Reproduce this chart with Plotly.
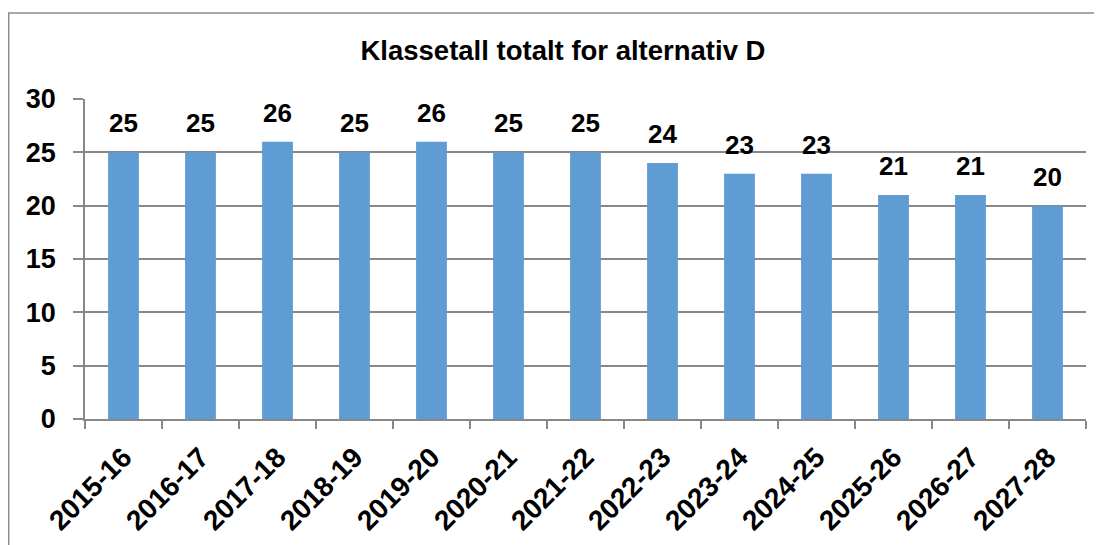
import plotly.graph_objects as go

categories = ["2015-16", "2016-17", "2017-18", "2018-19", "2019-20", "2020-21", "2021-22",
              "2022-23", "2023-24", "2024-25", "2025-26", "2026-27", "2027-28"]
values = [25, 25, 26, 25, 26, 25, 25, 24, 23, 23, 21, 21, 20]
y_ticks = [0, 5, 10, 15, 20, 25, 30]
title_text = "Klassetall totalt for alternativ D"

FONT = "Liberation Sans, Arial, sans-serif"
BAR = "#5E9CD3"
GRID = "#888888"

fig = go.Figure()
fig.add_trace(go.Bar(
    x=categories, y=values,
    marker=dict(color=BAR, line=dict(width=0)),
    width=0.4,
    hoverinfo="x+y",
))

for c, v in zip(categories, values):
    fig.add_annotation(
        x=c, y=v, text=str(v), showarrow=False,
        yanchor="bottom", yshift=12,
        font=dict(family=FONT, size=26, color="black", weight="bold"),
    )

# chart frame
fig.add_shape(type="rect", xref="paper", yref="paper",
              x0=-0.0762, x1=1.2, y0=-0.6, y1=1.26875,
              line=dict(color="#8C8C8C", width=1.5), fillcolor="rgba(0,0,0,0)", layer="below")

fig.update_layout(
    width=1094, height=537,
    margin=dict(l=77, r=16, t=91, b=126, autoexpand=False),
    paper_bgcolor="white", plot_bgcolor="white",
    showlegend=False,
    title=dict(text=title_text, x=0.4775, xref="paper", xanchor="center",
               y=1 - 42 / 537, yref="container", yanchor="middle",
               automargin=False,
               font=dict(family=FONT, size=27.5, color="black", weight="bold")),
    xaxis=dict(
        type="category", tickangle=-45, automargin=False,
        showline=True, linecolor=GRID, linewidth=1.5,
        ticks="outside", ticklen=8, tickcolor=GRID, tickwidth=1.5,
        tickson="boundaries",
        ticklabelstandoff=9,
        showgrid=False,
        tickfont=dict(family=FONT, size=28, color="black", weight="bold"),
    ),
    yaxis=dict(
        range=[0, 30], tickvals=y_ticks, automargin=False,
        showline=True, linecolor=GRID, linewidth=1.5,
        ticks="outside", ticklen=10, tickcolor=GRID, tickwidth=1.5,
        ticklabelstandoff=12,
        showgrid=True, gridcolor=GRID, gridwidth=1.5,
        zeroline=False,
        tickfont=dict(family=FONT, size=27, color="black", weight="bold"),
    ),
)

fig.write_html("out.html")
